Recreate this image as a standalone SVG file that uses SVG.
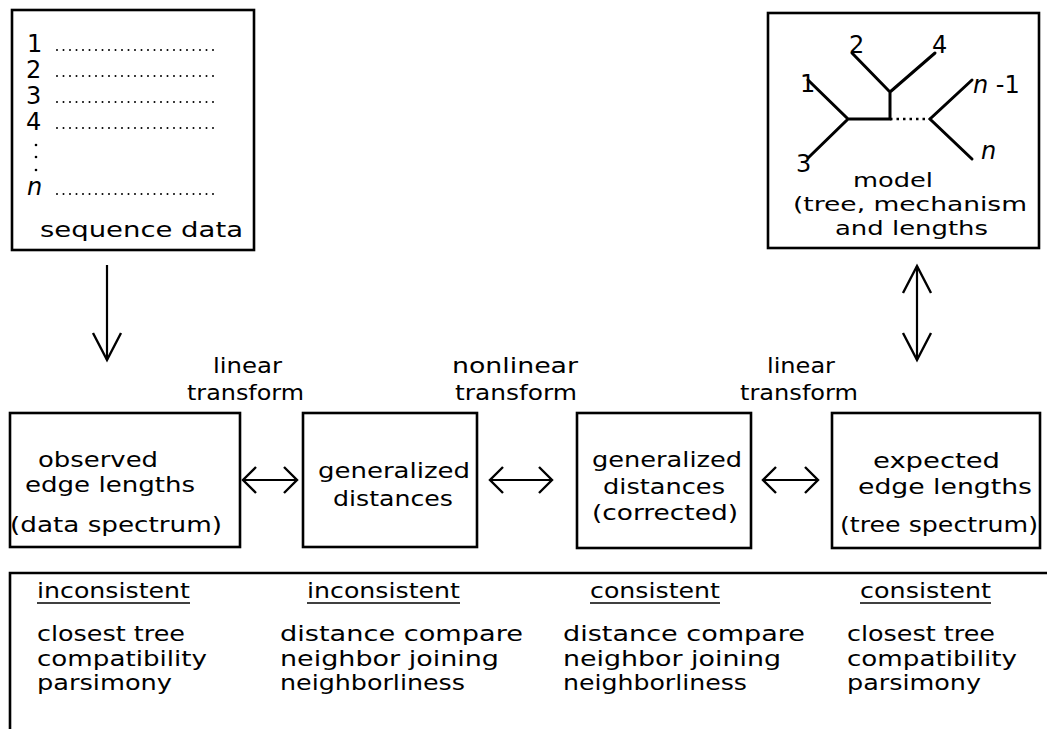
<svg xmlns="http://www.w3.org/2000/svg" width="1047" height="729" viewBox="0 0 1047 729">
<style>
  .box{fill:#fff;stroke:#000;stroke-width:2.6}
  .t{font-family:"DejaVu Sans","Liberation Sans",sans-serif;font-size:22px;fill:#000}
  .m{font-family:"DejaVu Sans","Liberation Sans",sans-serif;font-size:20px;fill:#000}
  .d{font-family:"DejaVu Sans","Liberation Sans",sans-serif;font-size:24px;fill:#000}
  .i{font-style:italic}
  .dots{stroke:#000;stroke-width:2;stroke-linecap:round;stroke-dasharray:0 6.5;fill:none}
  .br{stroke:#000;stroke-width:3;fill:none;stroke-linecap:round}
  .conn{stroke:#000;stroke-width:2.2;fill:none}
  .ul{stroke:#000;stroke-width:1.6}
</style>
<defs>
  <marker id="hw" markerUnits="userSpaceOnUse" markerWidth="40" markerHeight="40" viewBox="-20 -20 40 40" refX="0" refY="0" orient="auto-start-reverse" overflow="visible">
    <path d="M -13 -13 L 0 0 L -13 13" fill="none" stroke="#000" stroke-width="2.4"/>
  </marker>
  <marker id="vw" markerUnits="userSpaceOnUse" markerWidth="60" markerHeight="60" viewBox="-30 -30 60 60" refX="0" refY="0" orient="auto-start-reverse" overflow="visible">
    <path d="M -27 -14 L 0 0 L -27 14" fill="none" stroke="#000" stroke-width="2.4"/>
  </marker>
</defs>
<rect width="1047" height="729" fill="#fff"/>

<g id="sequence-data">
  <rect class="box" x="12" y="10" width="242" height="240"/>
  <text class="d" x="27" y="52">1</text>
  <text class="d" x="26" y="78">2</text>
  <text class="d" x="26" y="104">3</text>
  <text class="d" x="26" y="130">4</text>
  <line class="dots" x1="57" y1="50" x2="215" y2="50"/>
  <line class="dots" x1="57" y1="76" x2="215" y2="76"/>
  <line class="dots" x1="57" y1="102" x2="215" y2="102"/>
  <line class="dots" x1="57" y1="128" x2="215" y2="128"/>
  <circle cx="36" cy="145" r="1.3"/>
  <circle cx="36" cy="157" r="1.3"/>
  <circle cx="36" cy="170" r="1.3"/>
  <text class="d i" x="27" y="195">n</text>
  <line class="dots" x1="57" y1="194" x2="215" y2="194"/>
  <text class="t" x="40" y="237" textLength="203" lengthAdjust="spacingAndGlyphs">sequence data</text>
</g>

<g id="model">
  <rect class="box" x="768" y="13" width="271" height="235"/>
  <path class="br" d="M808 80 L848 119 L808 158 M848 119 L890 119 L890 92 L852 53 M890 92 L935 53 M972 80 L930 119 L972 159"/>
  <line x1="890" y1="119" x2="930" y2="119" stroke="#000" stroke-width="2.6" stroke-dasharray="2.5 4"/>
  <text class="d" x="800" y="92">1</text>
  <text class="d" x="849" y="53">2</text>
  <text class="d" x="796" y="172">3</text>
  <text class="d" x="932" y="53">4</text>
  <text class="d" x="973" y="93"><tspan class="i">n</tspan> -1</text>
  <text class="d i" x="981" y="159">n</text>
  <text class="m" x="853" y="187" textLength="80" lengthAdjust="spacingAndGlyphs">model</text>
  <text class="m" x="793" y="211" textLength="234" lengthAdjust="spacingAndGlyphs">(tree, mechanism</text>
  <text class="m" x="835" y="235" textLength="153" lengthAdjust="spacingAndGlyphs">and lengths</text>
</g>

<g id="observed-edge-lengths">
  <rect class="box" x="10" y="413" width="230" height="134"/>
  <text class="t" x="38" y="467" textLength="120" lengthAdjust="spacingAndGlyphs">observed</text>
  <text class="t" x="25" y="492" textLength="170" lengthAdjust="spacingAndGlyphs">edge lengths</text>
  <text class="t" x="10" y="532" textLength="212" lengthAdjust="spacingAndGlyphs">(data spectrum)</text>
</g>

<g id="generalized-distances">
  <rect class="box" x="303" y="413" width="174" height="134"/>
  <text class="t" x="318" y="478" textLength="152" lengthAdjust="spacingAndGlyphs">generalized</text>
  <text class="t" x="333" y="506" textLength="120" lengthAdjust="spacingAndGlyphs">distances</text>
</g>

<g id="generalized-distances-corrected">
  <rect class="box" x="577" y="413" width="174" height="135"/>
  <text class="t" x="592" y="467" textLength="150" lengthAdjust="spacingAndGlyphs">generalized</text>
  <text class="t" x="603" y="494" textLength="122" lengthAdjust="spacingAndGlyphs">distances</text>
  <text class="t" x="592" y="520" textLength="146" lengthAdjust="spacingAndGlyphs">(corrected)</text>
</g>

<g id="expected-edge-lengths">
  <rect class="box" x="832" y="413" width="208" height="135"/>
  <text class="t" x="873" y="468" textLength="127" lengthAdjust="spacingAndGlyphs">expected</text>
  <text class="t" x="858" y="494" textLength="174" lengthAdjust="spacingAndGlyphs">edge lengths</text>
  <text class="t" x="840" y="532" textLength="198" lengthAdjust="spacingAndGlyphs">(tree spectrum)</text>
</g>

<g id="connectors">
  <line class="conn" x1="107" y1="265" x2="107" y2="360" marker-end="url(#vw)"/>
  <line class="conn" x1="917" y1="266" x2="917" y2="360" marker-start="url(#vw)" marker-end="url(#vw)"/>
  <line class="conn" x1="243" y1="480" x2="297" y2="480" marker-start="url(#hw)" marker-end="url(#hw)"/>
  <line class="conn" x1="490" y1="480" x2="552" y2="480" marker-start="url(#hw)" marker-end="url(#hw)"/>
  <line class="conn" x1="763" y1="480" x2="818" y2="480" marker-start="url(#hw)" marker-end="url(#hw)"/>
  <g id="connector-labels">
    <text class="t" x="213" y="373" textLength="69" lengthAdjust="spacingAndGlyphs">linear</text>
    <text class="t" x="187" y="400" textLength="117" lengthAdjust="spacingAndGlyphs">transform</text>
    <text class="t" x="452" y="373" textLength="126" lengthAdjust="spacingAndGlyphs">nonlinear</text>
    <text class="t" x="455" y="400" textLength="122" lengthAdjust="spacingAndGlyphs">transform</text>
    <text class="t" x="767" y="373" textLength="68" lengthAdjust="spacingAndGlyphs">linear</text>
    <text class="t" x="740" y="400" textLength="118" lengthAdjust="spacingAndGlyphs">transform</text>
  </g>
</g>

<g id="consistency-table">
  <path d="M10 729 L10 573 L1047 573" fill="none" stroke="#000" stroke-width="2.6"/>
  <text class="t" x="37" y="598" textLength="153" lengthAdjust="spacingAndGlyphs">inconsistent</text>
  <line class="ul" x1="37" y1="603" x2="190" y2="603"/>
  <text class="t" x="37" y="641" textLength="148" lengthAdjust="spacingAndGlyphs">closest tree</text>
  <text class="t" x="37" y="666" textLength="170" lengthAdjust="spacingAndGlyphs">compatibility</text>
  <text class="t" x="37" y="690" textLength="135" lengthAdjust="spacingAndGlyphs">parsimony</text>

  <text class="t" x="307" y="598" textLength="153" lengthAdjust="spacingAndGlyphs">inconsistent</text>
  <line class="ul" x1="307" y1="603" x2="460" y2="603"/>
  <text class="t" x="280" y="641" textLength="243" lengthAdjust="spacingAndGlyphs">distance compare</text>
  <text class="t" x="280" y="666" textLength="219" lengthAdjust="spacingAndGlyphs">neighbor  joining</text>
  <text class="t" x="280" y="690" textLength="185" lengthAdjust="spacingAndGlyphs">neighborliness</text>

  <text class="t" x="590" y="598" textLength="130" lengthAdjust="spacingAndGlyphs">consistent</text>
  <line class="ul" x1="590" y1="603" x2="720" y2="603"/>
  <text class="t" x="563" y="641" textLength="242" lengthAdjust="spacingAndGlyphs">distance compare</text>
  <text class="t" x="563" y="666" textLength="218" lengthAdjust="spacingAndGlyphs">neighbor  joining</text>
  <text class="t" x="563" y="690" textLength="184" lengthAdjust="spacingAndGlyphs">neighborliness</text>

  <text class="t" x="860" y="598" textLength="131" lengthAdjust="spacingAndGlyphs">consistent</text>
  <line class="ul" x1="860" y1="603" x2="991" y2="603"/>
  <text class="t" x="847" y="641" textLength="148" lengthAdjust="spacingAndGlyphs">closest tree</text>
  <text class="t" x="847" y="666" textLength="170" lengthAdjust="spacingAndGlyphs">compatibility</text>
  <text class="t" x="847" y="690" textLength="134" lengthAdjust="spacingAndGlyphs">parsimony</text>
</g>
</svg>
